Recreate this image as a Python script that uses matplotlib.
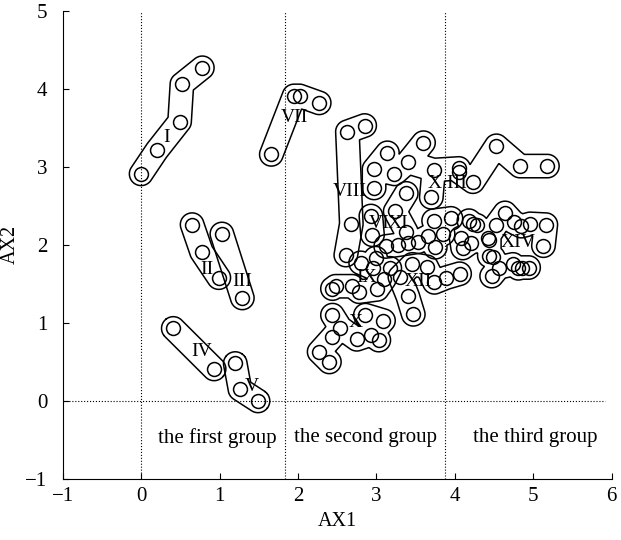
import numpy as np
import matplotlib.pyplot as plt

plt.rcParams['font.family'] = ['Liberation Serif', 'DejaVu Serif']
plt.rcParams['font.size'] = 14

# ----------------------------
# cluster points (AX1, AX2)
# ----------------------------
cl_I = [(0.00, 2.91), (0.20, 3.21), (0.49, 3.58), (0.52, 4.06), (0.78, 4.27)]
cl_II = [(0.65, 2.26), (0.77, 1.91), (0.99, 1.58)]
cl_III = [(1.03, 2.14), (1.29, 1.32)]
cl_IV = [(0.41, 0.93), (0.93, 0.41)]
cl_V = [(1.20, 0.48), (1.26, 0.15), (1.49, 0.00)]
cl_VI = [(2.93, 2.37), (2.95, 2.13)]
cl_VII = [(1.66, 3.16), (1.95, 3.91), (2.02, 3.91), (2.27, 3.82)]
cl_VIII = [(2.63, 3.45), (2.85, 3.53), (2.68, 2.27), (2.61, 1.87)]
cl_IX = [(2.80, 1.77), (2.99, 1.83), (2.96, 1.70), (3.17, 1.70), (2.48, 1.47),
         (2.44, 1.44), (2.69, 1.47), (2.78, 1.40), (3.01, 1.43), (3.10, 1.56)]
cl_X = [(2.44, 1.10), (2.86, 1.10), (3.09, 1.03), (2.54, 0.94), (2.44, 0.82),
        (2.75, 0.79), (2.93, 0.85), (3.03, 0.78), (2.27, 0.63), (2.40, 0.50)]
cl_XI = [(3.24, 2.43), (3.38, 2.66), (3.38, 2.17), (3.12, 1.98), (3.27, 2.00),
         (3.40, 2.02), (3.53, 2.04), (3.73, 2.31), (3.95, 2.34), (3.66, 2.11),
         (3.85, 2.14), (3.75, 1.97)]
cl_XII = [(3.30, 1.59), (3.46, 1.75), (3.64, 1.72), (3.74, 1.52), (3.89, 1.58),
          (4.06, 1.63), (3.40, 1.34), (3.47, 1.11)]
cl_XIII = [(2.97, 2.97), (3.14, 3.18), (3.23, 2.91), (3.40, 3.06), (3.60, 3.31),
           (2.97, 2.73), (3.70, 2.61), (3.73, 2.96), (4.05, 2.98), (4.05, 2.94),
           (4.23, 2.81), (4.53, 3.27), (4.83, 3.01), (5.18, 3.01)]
cl_XIV = [(4.18, 2.31), (4.23, 2.27), (4.28, 2.25), (4.08, 2.09), (4.10, 1.96),
          (4.20, 2.03), (4.42, 2.09), (4.44, 2.06), (4.64, 2.41), (4.53, 2.26),
          (4.75, 2.29), (4.85, 2.24), (4.96, 2.27), (5.16, 2.26), (5.13, 1.99),
          (4.44, 1.86), (4.49, 1.84), (4.56, 1.71), (4.47, 1.60), (4.74, 1.75),
          (4.81, 1.70), (4.86, 1.71), (4.94, 1.71)]

clusters = [cl_I, cl_II, cl_III, cl_IV, cl_V, cl_VI, cl_VII,
            cl_VIII, cl_IX, cl_X, cl_XI, cl_XII, cl_XIII, cl_XIV]

# cluster labels and where they sit
label_text = ["I", "II", "III", "IV", "V", "VI", "VII",
              "VIII", "IX", "X", "XI", "XII", "X III", "XIV"]
label_x = [0.32, 0.84, 1.29, 0.77, 1.41, 3.03, 1.95,
           2.66, 2.87, 2.74, 3.28, 3.54, 3.90, 4.80]
label_y = [3.37, 1.68, 1.53, 0.63, 0.18, 2.28, 3.63,
           2.69, 1.58, 1.00, 2.28, 1.53, 2.79, 2.03]

# group boundaries and names
split_x = [0.0, 1.83, 3.87]
group_names = ["the first group", "the second group", "the third group"]
group_x = [0.97, 2.86, 5.02]
group_y = -0.47


# ----------------------------
# outline around one cluster
# ----------------------------
def outline(ax, pts, r=0.15):
    pts = np.asarray(pts, dtype=float)
    n = len(pts)
    d = np.linalg.norm(pts[:, None] - pts[None], axis=2)

    # minimum spanning tree (Prim)
    edges = []
    in_tree = [0]
    while len(in_tree) < n:
        best = None
        for i in in_tree:
            for j in range(n):
                if j in in_tree:
                    continue
                if best is None or d[i, j] < best[0]:
                    best = (d[i, j], i, j)
        edges.append((best[1], best[2]))
        in_tree.append(best[2])

    x0, y0 = pts.min(0) - 2 * r
    x1, y1 = pts.max(0) + 2 * r
    gx, gy = np.meshgrid(np.arange(x0, x1, 0.005), np.arange(y0, y1, 0.005))
    field = np.full(gx.shape, np.inf)

    for i, j in edges:
        a = pts[i]
        ab = pts[j] - a
        L2 = ab @ ab
        if L2 > 0:
            t = ((gx - a[0]) * ab[0] + (gy - a[1]) * ab[1]) / L2
            t = np.clip(t, 0, 1)
        else:
            t = 0
        px = a[0] + t * ab[0]
        py = a[1] + t * ab[1]
        field = np.minimum(field, np.hypot(gx - px, gy - py))

    ax.contour(gx, gy, field, levels=[r], colors="k", linewidths=1.1)


fig = plt.figure(figsize=(6.21, 5.4), dpi=100)
ax = fig.add_axes([0.101, 0.113, 0.884, 0.867])

for pts in clusters:
    outline(ax, pts)
    xs = [p[0] for p in pts]
    ys = [p[1] for p in pts]
    ax.plot(xs, ys, "o", ms=10, mfc="none", mec="k", mew=1.1, zorder=3)

for t, x, y in zip(label_text, label_x, label_y):
    ax.text(x, y, t, ha="center", va="center", fontsize=14)

# dotted guides
for x in split_x:
    ax.axvline(x, color="k", ls=":", lw=0.8)
ax.plot([-1, 5.91], [0, 0], color="k", ls=":", lw=0.8)

for t, x in zip(group_names, group_x):
    ax.text(x, group_y, t, ha="center", va="center", fontsize=15)

ax.set_xlim(-1, 6)
ax.set_ylim(-1, 5)
ax.set_xticks(range(-1, 7))
ax.set_yticks(range(-1, 6))
ax.spines["top"].set_visible(False)
ax.spines["right"].set_visible(False)
ax.tick_params(direction="in", length=4, labelsize=15)
ax.tick_params(axis="y", pad=11)
ax.tick_params(axis="x", pad=6)
ax.set_xlabel("AX1", fontsize=14.5)
ax.set_ylabel("AX2", fontsize=14.5)

fig.savefig("out.png", dpi=100)
